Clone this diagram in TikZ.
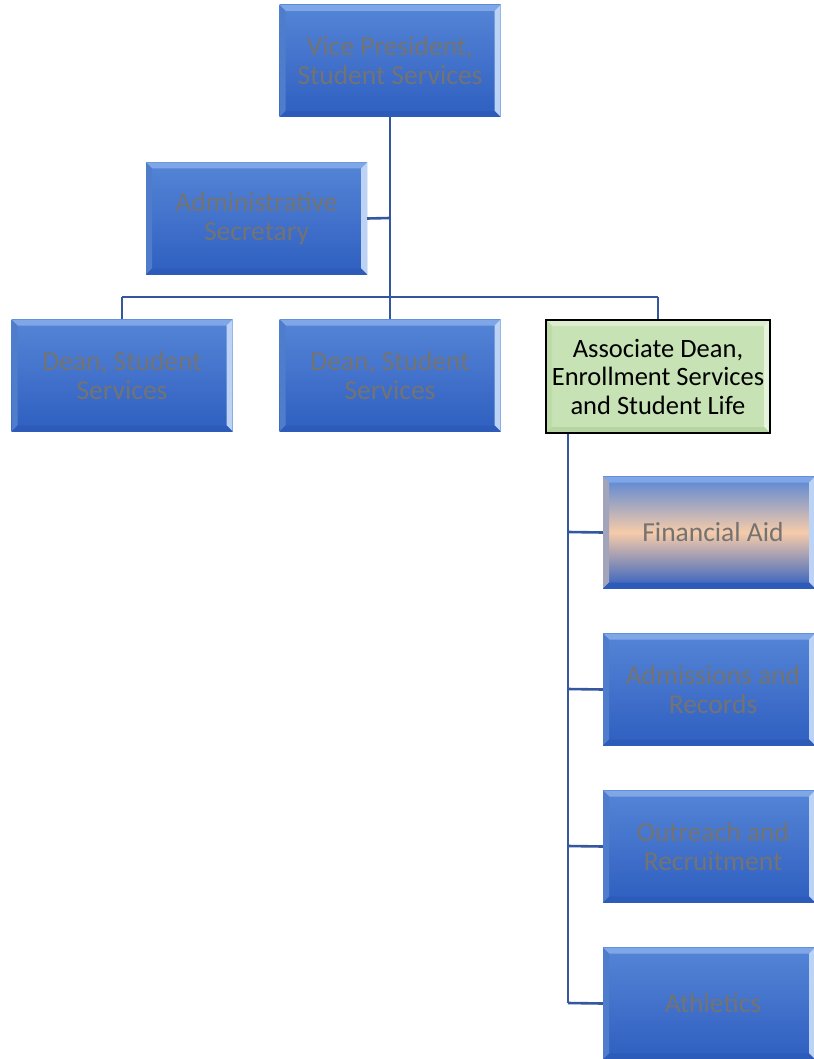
\documentclass[tikz,border=0pt]{standalone}
\usepackage{fontspec}
\setmainfont{Carlito}
\usetikzlibrary{calc}
\definecolor{boxtop}{HTML}{5585D6}
\definecolor{boxbot}{HTML}{2F5FC0}
\definecolor{bevT}{HTML}{7FA6E6}
\definecolor{bevR}{HTML}{BCD3F5}
\definecolor{bevL}{HTML}{4F7DCC}
\definecolor{bevB}{HTML}{2D5BBA}
\definecolor{txtgray}{HTML}{737373}
\definecolor{linecol}{HTML}{3457A0}
\definecolor{peach}{HTML}{F6CBA9}
\definecolor{grn}{HTML}{C7E2B5}
\definecolor{grnT}{HTML}{DCEDD0}
\definecolor{grnR}{HTML}{E6F3DD}
\definecolor{grnL}{HTML}{BEDBAA}
\definecolor{grnB}{HTML}{B6D5A2}
\tikzset{
  bevelpic/.style n args={4}{path picture={
    \def\b{6pt}
    \fill[#1] (path picture bounding box.north west) -- (path picture bounding box.north east) -- ($(path picture bounding box.north east)+(-\b,-\b)$) -- ($(path picture bounding box.north west)+(\b,-\b)$) -- cycle;
    \fill[#2] (path picture bounding box.north east) -- (path picture bounding box.south east) -- ($(path picture bounding box.south east)+(-\b,\b)$) -- ($(path picture bounding box.north east)+(-\b,-\b)$) -- cycle;
    \fill[#3] (path picture bounding box.north west) -- (path picture bounding box.south west) -- ($(path picture bounding box.south west)+(\b,\b)$) -- ($(path picture bounding box.north west)+(\b,-\b)$) -- cycle;
    \fill[#4] (path picture bounding box.south west) -- (path picture bounding box.south east) -- ($(path picture bounding box.south east)+(-\b,\b)$) -- ($(path picture bounding box.south west)+(\b,\b)$) -- cycle;
  }},
  orgbox/.style={rectangle, inner sep=0pt, minimum width=221pt, minimum height=112pt,
    align=center, text=txtgray, font=\fontsize{27.5}{29}\selectfont,
    top color=boxtop, bottom color=boxbot,
    bevelpic={bevT}{bevR}{bevL}{bevB}},
  faibox/.style={orgbox, top color=boxtop, bottom color=boxbot, middle color=peach,
    bevelpic={bevT}{bevR}{bevL!50!peach}{bevB}},
  grnbox/.style={rectangle, inner sep=0pt, minimum width=224pt, minimum height=113pt,
    align=center, text=black, font=\fontsize{26.5}{28.5}\selectfont,
    fill=grn, bevelpic={grnT}{grnR}{grnL}{grnB}},
  conn/.style={draw=linecol, line width=2.6pt}
}
\begin{document}
\begin{tikzpicture}[x=1pt,y=-1pt]
\useasboundingbox (0,0) rectangle (813,1059);
% connector coordinates
\coordinate (hub) at (390,297);
\coordinate (sec) at (390,218);
\coordinate (hl) at (122,297);
\coordinate (hr) at (658,297);
\coordinate (t1) at (568,532);
\coordinate (t2) at (568,689);
\coordinate (t3) at (568,846);
\coordinate (t4) at (568,1003);
% nodes
\node[orgbox] (vp) at (390,61) {Vice President,\\Student Services};
\node[orgbox] (as) at (256.5,218.5) {Administrative\\Secretary};
\node[orgbox] (d1) at (122,375.5) {Dean, Student\\Services};
\node[orgbox] (d2) at (390,375.5) {Dean, Student\\Services};
\node[grnbox] (ad) at (658,376.5) {Associate Dean,\\Enrollment Services\\and Student Life};
\node[faibox, minimum width=212pt] (fa) at (709,532.5) {\hspace*{8pt}Financial Aid};
\node[orgbox, minimum width=212pt] (ar) at (709,689.5) {\hspace*{8pt}Admissions and\\\hspace*{8pt}Records};
\node[orgbox, minimum width=212pt] (or) at (709,846.5) {\hspace*{8pt}Outreach and\\\hspace*{8pt}Recruitment};
\node[orgbox, minimum width=212pt] (at) at (709,1003.5) {\hspace*{8pt}Athletics};
% connectors
\draw[conn] (vp.south) -- (hub);
\draw[conn] (as.east) -- (sec);
\draw[conn] (hl) -- (hr);
\draw[conn] (hl) -- (d1.north);
\draw[conn] (hub) -- (d2.north);
\draw[conn] (hr) -- (ad.north);
\draw[conn] (ad.south -| t1) -- (t4);
\draw[conn] (t1) -- (fa.west);
\draw[conn] (t2) -- (ar.west);
\draw[conn] (t3) -- (or.west);
\draw[conn] (t4) -- (at.west);
\draw[black, line width=2pt] (ad.north west) rectangle (ad.south east);
\end{tikzpicture}
\end{document}
